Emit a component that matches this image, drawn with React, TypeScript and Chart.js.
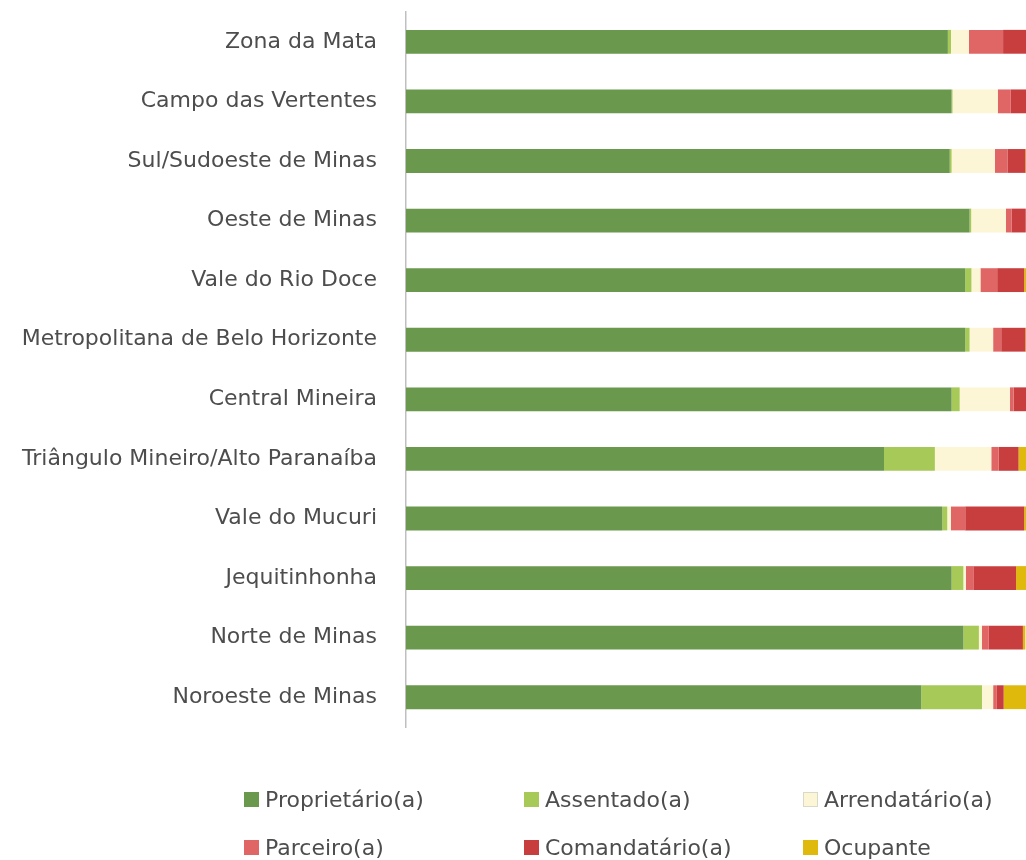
import React, { useEffect, useRef } from "react";
import { Chart, registerables } from "chart.js";

Chart.register(...registerables);

const categories = [
  "Zona da Mata",
  "Campo das Vertentes",
  "Sul/Sudoeste de Minas",
  "Oeste de Minas",
  "Vale do Rio Doce",
  "Metropolitana de Belo Horizonte",
  "Central Mineira",
  "Triângulo Mineiro/Alto Paranaíba",
  "Vale do Mucuri",
  "Jequitinhonha",
  "Norte de Minas",
  "Noroeste de Minas",
];

const seriesNames = [
  "Proprietário(a)",
  "Assentado(a)",
  "Arrendatário(a)",
  "Parceiro(a)",
  "Comandatário(a)",
  "Ocupante",
];

const proprietario = [87.4, 88.0, 87.7, 90.9, 90.2, 90.2, 88.0, 77.1, 86.5, 88.0, 89.9, 83.1];
const assentado = [0.5, 0.15, 0.3, 0.26, 1.0, 0.7, 1.3, 8.2, 0.8, 1.9, 2.5, 9.8];
const arrendatario = [2.9, 7.3, 7.0, 5.6, 1.45, 3.8, 8.1, 9.1, 0.6, 0.4, 0.5, 1.8];
const parceiro = [5.5, 2.1, 2.0, 0.9, 2.7, 1.3, 0.6, 1.2, 2.3, 1.3, 1.1, 0.6];
const comandatario = [3.7, 2.6, 2.9, 2.3, 4.35, 3.9, 2.0, 3.2, 9.5, 6.8, 5.5, 1.1];
const ocupante = [0, 0, 0.2, 0, 0.3, 0.1, 0, 1.3, 0.3, 1.6, 0.4, 3.6];

const seriesValues = [proprietario, assentado, arrendatario, parceiro, comandatario, ocupante];
const colors = ["#6a994e", "#a7c957", "#fdf6d6", "#e06666", "#c83e3e", "#dfb90c"];

const FONT = "'DejaVu Sans', sans-serif";
const TEXT = "#4d4d4d";

export default function App() {
  const ref = useRef<HTMLCanvasElement | null>(null);

  useEffect(() => {
    document.body.style.margin = "0";
    const chart = new Chart(ref.current!, {
      type: "bar",
      data: {
        labels: categories,
        datasets: seriesNames.map((name, i) => ({
          label: name,
          data: seriesValues[i],
          backgroundColor: colors[i],
          borderWidth: 0,
          barPercentage: 0.8,
          categoryPercentage: 0.5,
        })),
      },
      options: {
        indexAxis: "y",
        animation: false,
        responsive: false,
        maintainAspectRatio: false,
        layout: { padding: { top: 12, bottom: 133, left: 0, right: 0 } },
        plugins: { legend: { display: false }, tooltip: { enabled: false } },
        scales: {
          x: {
            stacked: true,
            min: 0,
            max: 100,
            display: false,
          },
          y: {
            stacked: true,
            grid: { display: false, drawTicks: false },
            border: { display: true, color: "#bfbfbf", width: 1.5 },
            ticks: {
              padding: 29,
              color: TEXT,
              font: { family: FONT, size: 22 },
            },
            afterFit: (scale: any) => {
              scale.width = 406;
              scale.paddingTop = 0;
              scale.paddingBottom = 0;
            },
          },
        },
      },
    });
    return () => chart.destroy();
  }, []);

  const legendCols = [244, 524, 803];
  const legendRows = [799, 847];

  return (
    <div style={{ position: "absolute", left: 0, top: 0, width: 1026, height: 860, background: "#fff" }}>
      <canvas ref={ref} width={1026} height={860} style={{ width: 1026, height: 860, display: "block" }} />
      {seriesNames.map((name, i) => (
        <div
          key={name}
          style={{
            position: "absolute",
            left: legendCols[i % 3],
            top: legendRows[Math.floor(i / 3)] - 14,
            height: 28,
            display: "flex",
            alignItems: "center",
            fontFamily: FONT,
            fontSize: 22,
            color: TEXT,
            whiteSpace: "nowrap",
          }}
        >
          <span
            style={{
              display: "inline-block",
              width: 15,
              height: 15,
              background: colors[i],
              border: i === 2 ? "1px solid #d9d9c8" : "none",
              boxSizing: "border-box",
              marginRight: 6,
            }}
          />
          {name}
        </div>
      ))}
    </div>
  );
}
